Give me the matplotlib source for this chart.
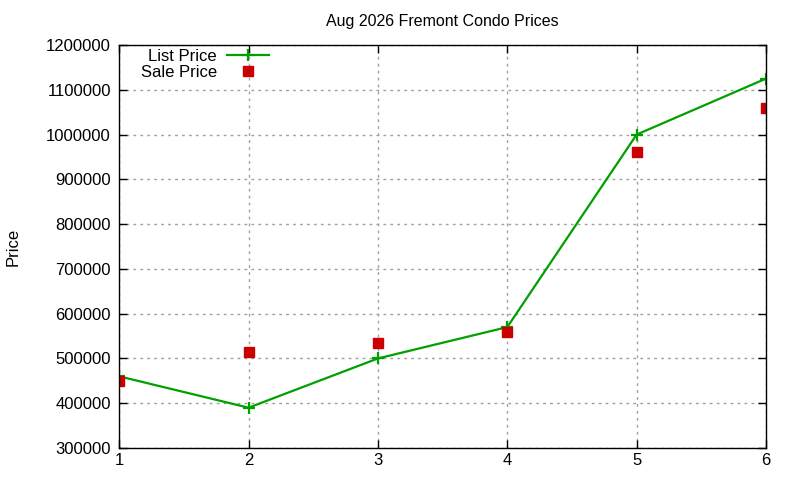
import matplotlib
matplotlib.use('Agg')
import matplotlib.pyplot as plt
from matplotlib.ticker import MultipleLocator

plt.rcParams.update({'font.size': 12, 'font.family': 'Liberation Sans'})

months = [1, 2, 3, 4, 5, 6]
list_price = [460000, 390000, 500000, 570000, 1000000, 1125000]
sale_price = [450000, 515000, 535000, 560000, 960000, 1060000]
title = 'Aug 2026 Fremont Condo Prices'

fig = plt.figure(figsize=(8, 4.8), dpi=100)
ax = fig.add_axes([0.149, 0.0667, 0.8085, 0.8395])

ax.plot(months, list_price, color='#00a000', lw=1.6, marker='+', ms=8, mew=1.6,
        label='List Price')
ax.plot(months, sale_price, color='#cc0000', lw=0, marker='s', ms=6.5,
        label='Sale Price')

ax.set_xlim(1, 6)
ax.set_ylim(300000, 1200000)
ax.xaxis.set_major_locator(MultipleLocator(1))
ax.yaxis.set_major_locator(MultipleLocator(100000))
ax.ticklabel_format(axis='y', style='plain', useOffset=False)
ax.tick_params(direction='in', top=True, right=True, length=6, width=1)
ax.tick_params(axis='y', pad=6)
ax.grid(True, color='#a0a0a0', linestyle=(0, (2, 3)), lw=1)
for s in ax.spines.values():
    s.set_linewidth(1)

ax.set_title(title, fontsize=11.5, pad=14)
ax.set_ylabel('Price')
ax.yaxis.set_label_coords(-0.153, 0.5)

ax.legend(loc='upper left', bbox_to_anchor=(0.018, 1.015), frameon=False,
          markerfirst=False, handlelength=2.5, labelspacing=0.05,
          borderaxespad=0.2, handletextpad=0.6)

plt.savefig('out.png')
